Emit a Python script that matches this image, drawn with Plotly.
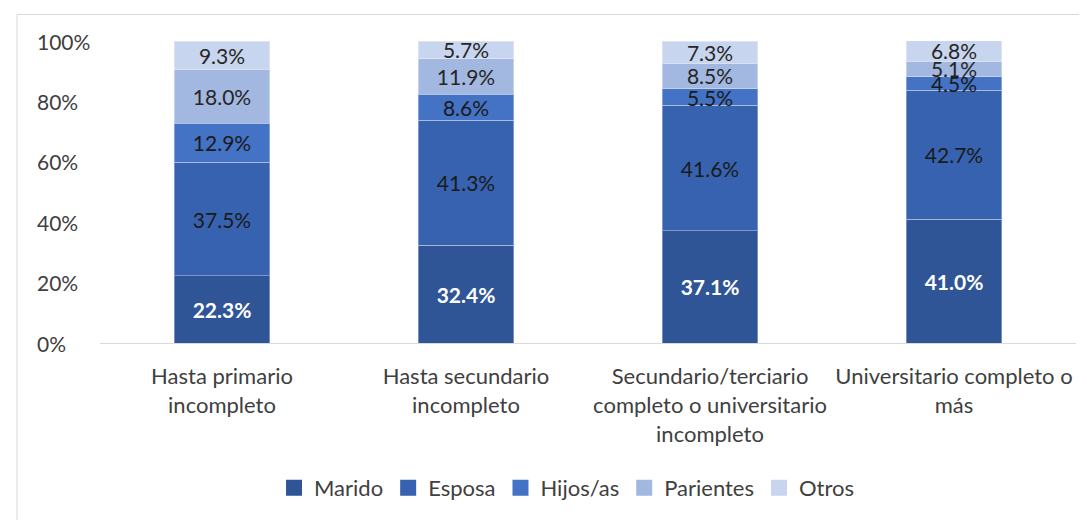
import plotly.graph_objects as go

categories = [
    'Hasta primario<br>incompleto',
    'Hasta secundario<br>incompleto',
    'Secundario/terciario<br>completo o universitario<br>incompleto',
    'Universitario completo o<br>más',
]
marido = [22.3, 32.4, 37.1, 41.0]
esposa = [37.5, 41.3, 41.6, 42.7]
hijos = [12.9, 8.6, 5.5, 4.5]
parientes = [18.0, 11.9, 8.5, 5.1]
otros = [9.3, 5.7, 7.3, 6.8]
y_ticks = [0, 20, 40, 60, 80, 100]

series = [
    ('Marido', marido, '#2f5597', 'white', True),
    ('Esposa', esposa, '#3762b0', '#1a1a1a', False),
    ('Hijos/as', hijos, '#4472c4', '#1a1a1a', False),
    ('Parientes', parientes, '#a3b8e0', '#262626', False),
    ('Otros', otros, '#c8d5ee', '#262626', False),
]

font = 'Lato, Open Sans, sans-serif'

fig = go.Figure()
for name, vals, color, tcolor, bold in series:
    fmt = '<b>%.1f%%</b>' if bold else '%.1f%%'
    fig.add_trace(go.Bar(
        x = categories,
        y = vals,
        name = name,
        showlegend = False,
        marker = dict(color = color, line = dict(color = 'rgba(255,255,255,0.35)', width = 1)),
        width = 0.39,
        text = [fmt % v for v in vals],
        textposition = 'inside',
        insidetextanchor = 'middle',
        textfont = dict(color = tcolor, size = 21, family = font),
        hoverinfo = 'name+y',
    ))

# legend-only entries with bigger square swatches
for name, vals, color, tcolor, bold in series:
    fig.add_trace(go.Scatter(
        x = [None], y = [None], mode = 'markers', name = name,
        marker = dict(symbol = 'square', size = 17, color = color),
    ))

# page body has an 8px margin, so the figure is 8px smaller than the window
fig.update_layout(
    barmode = 'stack',
    width = 1079,
    height = 512,
    paper_bgcolor = 'white',
    plot_bgcolor = 'white',
    margin = dict(l = 92, r = 11, t = 33, b = 173),
    uniformtext = dict(minsize = 21, mode = 'show'),
    font = dict(family = font, color = '#404040', size = 22),
    legend = dict(
        orientation = 'h',
        traceorder = 'normal',
        x = 0.478, xanchor = 'center',
        y = -0.48, yanchor = 'middle',
        font = dict(size = 22, color = '#404040'),
        itemwidth = 30,
        itemsizing = 'trace',
    ),
    shapes = [dict(
        type = 'rect', xref = 'paper', yref = 'paper',
        x0 = -0.085, x1 = 1.05, y0 = -0.7, y1 = 1.088,
        line = dict(color = '#d9d9d9', width = 1),
    )],
)

fig.update_xaxes(
    showline = True, linecolor = '#d9d9d9', linewidth = 1,
    tickfont = dict(size = 22, color = '#404040'),
    ticks = '',
    ticklabelstandoff = 14,
)
fig.update_yaxes(
    range = [0, 100],
    tickvals = y_ticks,
    showticklabels = False,
    showgrid = False,
    zeroline = False,
)

# left-aligned y tick labels
for t in y_ticks:
    fig.add_annotation(
        x = -0.067, xref = 'paper', xanchor = 'left',
        y = t, yref = 'y', yanchor = 'middle',
        text = '%d%%' % t, showarrow = False,
        font = dict(size = 21, color = '#404040'),
    )

fig.write_html('out.html')
